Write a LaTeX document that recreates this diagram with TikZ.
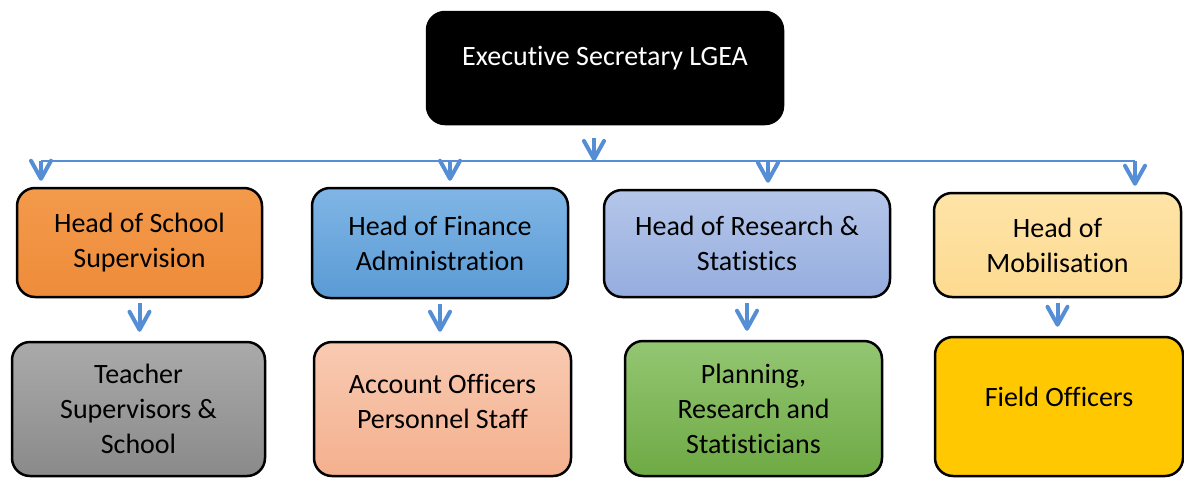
\documentclass[tikz,border=0pt]{standalone}
\usepackage{fontspec}
\setmainfont[Ligatures=NoCommon]{Carlito}
\usetikzlibrary{arrows.meta}

\definecolor{arrblue}{HTML}{558ED5}
\definecolor{orngT}{HTML}{F39A4B}
\definecolor{orngB}{HTML}{EE8C3A}
\definecolor{blueT}{HTML}{80B6E6}
\definecolor{blueB}{HTML}{5A9AD4}
\definecolor{lavT}{HTML}{B5C6E9}
\definecolor{lavB}{HTML}{95ADDF}
\definecolor{ylwT}{HTML}{FEE4A8}
\definecolor{ylwB}{HTML}{FDDA90}
\definecolor{grayT}{HTML}{AAAAAA}
\definecolor{grayB}{HTML}{8A8A8A}
\definecolor{pchT}{HTML}{F8CAB2}
\definecolor{pchB}{HTML}{F4B08E}
\definecolor{grnT}{HTML}{94C672}
\definecolor{grnB}{HTML}{6EAA45}
\definecolor{gold}{HTML}{FFC800}

\begin{document}
\begin{tikzpicture}
    [ x=1pt, y=-1pt,
      font=\fontsize{28}{35}\selectfont,
      box/.style={draw, line width=2.5pt, rounded corners=18pt, align=center, inner sep=0pt},
      arr/.style={draw=arrblue, line width=4pt, -{Straight Barb[length=18pt,width=20pt,round]}},
      busline/.style={draw=arrblue, line width=1.5pt},
    ]
    \useasboundingbox (0,0) rectangle (1184,477);

    % top
    \node[box, fill=black, text=white, minimum width=356pt, minimum height=112pt,
          text height=19pt, text depth=25pt] (es) at (605,68) {Executive Secretary LGEA};

    % heads
    \node[box, top color=orngT, bottom color=orngB, minimum width=245pt, minimum height=109pt]
        (hs) at (139.5,242.5) {Head of School\\Supervision};
    \node[box, top color=blueT, bottom color=blueB, minimum width=256pt, minimum height=110pt]
        (hf) at (440,243) {Head of Finance\\Administration};
    \node[box, top color=lavT, bottom color=lavB, minimum width=286pt, minimum height=107pt]
        (hr) at (747,243.5) {Head of Research \&\\Statistics};
    \node[box, top color=ylwT, bottom color=ylwB, minimum width=247pt, minimum height=104pt]
        (hm) at (1057.5,245) {Head of\\Mobilisation};

    % staff
    \node[box, top color=grayT, bottom color=grayB, minimum width=253pt, minimum height=134pt]
        (ts) at (138.5,409) {Teacher\\Supervisors \&\\School};
    \node[box, top color=pchT, bottom color=pchB, minimum width=257pt, minimum height=134pt,
          text depth=16pt] (ao) at (442.5,409) {Account Officers\\Personnel Staff};
    \node[box, top color=grnT, bottom color=grnB, minimum width=257pt, minimum height=135pt]
        (pr) at (753.5,408.5) {Planning,\\Research and\\Statisticians};
    \node[box, fill=gold, minimum width=248pt, minimum height=139pt,
          text height=19pt, text depth=19pt] (fo) at (1059,406.5) {Field Officers};

    % bus
    \coordinate (bus) at (594,161);
    \coordinate (b1) at (41,161);
    \coordinate (b2) at (450,161);
    \coordinate (b3) at (768,161);
    \coordinate (b4) at (1135,161);
    \draw[busline] (b1) -- (b4);
    \draw[arr, shorten <=13pt] (es.south -| bus) -- (bus);
    \foreach \b / \n in {b1/hs, b2/hf, b3/hr, b4/hm}
        \draw[arr, shorten >=6pt] (\b) -- (\b |- \n.north);
    \foreach \u / \l in {hs/ts, hf/ao, hr/pr, hm/fo}
        \draw[arr, shorten <=5pt, shorten >=9pt] (\u.south) -- (\u.south |- \l.north);
\end{tikzpicture}
\end{document}
